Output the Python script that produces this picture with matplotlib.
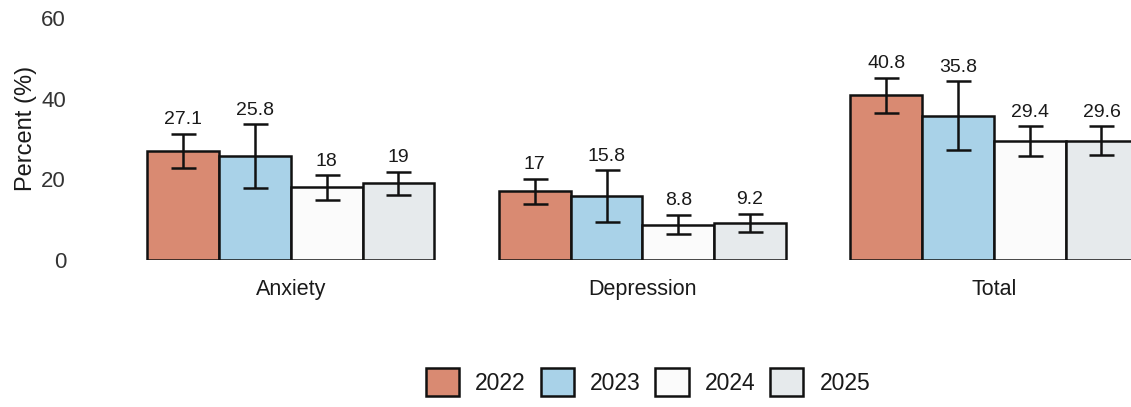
import matplotlib
matplotlib.use("Agg")
import matplotlib.pyplot as plt
import numpy as np
from matplotlib.patches import Patch

categories = ["Anxiety", "Depression", "Total"]
years = ["2022", "2023", "2024", "2025"]
values = {
    "2022": [27.1, 17.0, 40.8],
    "2023": [25.8, 15.8, 35.8],
    "2024": [18.0, 8.8, 29.4],
    "2025": [19.0, 9.2, 29.6],
}
errors = {
    "2022": [4.2, 3.2, 4.4],
    "2023": [7.9, 6.4, 8.5],
    "2024": [3.0, 2.4, 3.7],
    "2025": [2.9, 2.2, 3.5],
}
value_labels = {
    "2022": ["27.1", "17", "40.8"],
    "2023": ["25.8", "15.8", "35.8"],
    "2024": ["18", "8.8", "29.4"],
    "2025": ["19", "9.2", "29.6"],
}
yticks = [0, 20, 40, 60]

colors = {"2022": "#d98a72", "2023": "#a9d2e8", "2024": "#fbfbfb", "2025": "#e6eaec"}

plt.rcParams['font.family'] = ['Liberation Sans', 'DejaVu Sans']
txt = "#1a1a1a"

W, H = 1131, 407
fig = plt.figure(figsize=(W / 100, H / 100), dpi=100)
ax = fig.add_axes([80 / W, 1 - 260 / H, 1 - 80 / W, (260 - 18) / H])

x = np.arange(len(categories))
w = 0.204
for i, yr in enumerate(years):
    pos = x + (i - 1.5) * w
    ax.bar(pos, values[yr], width=w, color=colors[yr], edgecolor="#111111",
           linewidth=1.8, zorder=2)
    ax.errorbar(pos, values[yr], yerr=errors[yr], fmt="none", ecolor="#111111",
                elinewidth=1.8, capsize=9, capthick=1.8, zorder=3)
    for p, v, e, lab in zip(pos, values[yr], errors[yr], value_labels[yr]):
        ax.annotate(lab, (p, v + e), xytext=(0, 4), textcoords="offset points",
                    ha="center", va="bottom", fontsize=14, color=txt)

ax.set_xlim(-0.60, 2.39)
ax.set_ylim(0, 60)
ax.set_yticks(yticks)
ax.set_yticklabels([str(t) for t in yticks], fontsize=16, color="#333333")
ax.set_xticks(x)
ax.set_xticklabels(categories, fontsize=15.5, color=txt)
ax.tick_params(axis="both", length=0)
ax.tick_params(axis="y", pad=10)
ax.tick_params(axis="x", pad=14)
for s in ax.spines.values():
    s.set_visible(False)

fig.text(26 / W, 1 - 128 / H, "Percent (%)", rotation=90, ha="center",
         va="center", fontsize=17, color=txt)

handles = [Patch(facecolor=colors[yr], edgecolor="#111111", linewidth=1.8) for yr in years]
fig.legend(handles, years, loc="center", bbox_to_anchor=(648 / W, 1 - 382 / H),
           ncol=4, frameon=False, fontsize=16.5, handlelength=1.45,
           handleheight=1.45, handletextpad=0.7, columnspacing=0.65,
           labelcolor=txt)

fig.savefig("out.png", dpi=100, facecolor="white")
